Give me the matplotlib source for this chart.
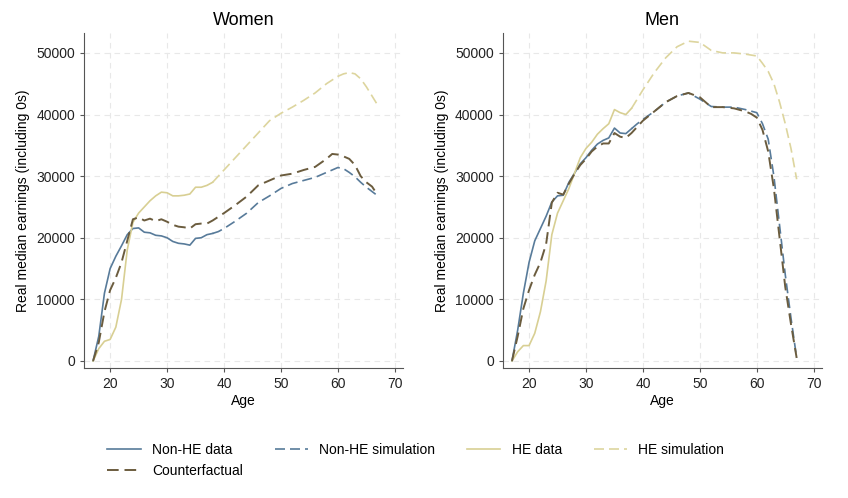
import numpy as np
import matplotlib.pyplot as plt

plt.rcParams['font.family'] = ['Liberation Sans', 'DejaVu Sans']

# --- Women
w_data_age = [17, 18, 19, 20, 21, 22, 23, 24, 25, 26, 27, 28, 29, 30, 31, 32, 33, 34, 35, 36, 37, 38]
w_sim_age = [38, 39, 40, 42, 44, 46, 48, 50, 52, 54, 56, 58, 60, 61, 62, 63, 64, 65, 66, 67]
w_cf_age = [17, 18, 19, 20, 21, 22, 23, 24, 25, 26, 27, 28, 29, 30, 31, 32, 33, 34, 35, 36, 37, 38,
            40, 42, 44, 46, 48, 50, 52, 54, 56, 58, 59, 60, 61, 62, 63, 64, 65, 66, 67]

w_nonhe_data = [0, 4000, 11000, 15000, 17000, 18700, 20500, 21500, 21600, 20900, 20800, 20400, 20300,
                20000, 19400, 19100, 19000, 18800, 19900, 20000, 20500, 20700]
w_nonhe_sim = [20700, 21000, 21500, 22700, 24000, 25700, 26800, 28000, 28800, 29300, 29800, 30600,
               31400, 31200, 30600, 29900, 29000, 28200, 27500, 26800]
w_he_data = [0, 2000, 3200, 3500, 5500, 10000, 18000, 22500, 24000, 25000, 26000, 26800, 27400,
             27300, 26800, 26800, 26900, 27100, 28200, 28200, 28500, 29000]
w_he_sim = [29000, 30000, 31000, 33000, 35000, 37000, 39000, 40200, 41200, 42300, 43500, 45000,
            46200, 46600, 46800, 46600, 45800, 44500, 43000, 41500]
w_cf = [0, 3000, 8000, 11500, 13500, 16000, 19500, 23000, 23300, 22800, 23100, 22700, 23000, 22600,
        22100, 21800, 21700, 21500, 22200, 22300, 22300, 22800,
        24000, 25300, 26700, 28500, 29300, 30100, 30400, 31000, 31500, 32800, 33600, 33500, 33200,
        32800, 31800, 30000, 29000, 28300, 26900]

# --- Men
m_nonhe_data = [0, 5000, 11000, 16000, 19500, 21500, 23500, 25800, 26800, 26900, 29000, 30500, 32000,
                33000, 34200, 35200, 35800, 36200, 37800, 37000, 36900, 37700]
m_nonhe_sim = [37700, 38500, 39200, 40500, 42000, 43000, 43500, 42500, 41300, 41200, 41200, 40800,
               40300, 38500, 36000, 30000, 22000, 14000, 7000, 500]
m_he_data = [0, 1500, 2500, 2500, 4500, 8000, 13000, 20500, 24000, 26000, 28000, 30500, 33000,
             34500, 35500, 36800, 37700, 38500, 40800, 40300, 40000, 41000]
m_he_sim = [41000, 42500, 44000, 46800, 49200, 51000, 51900, 51700, 50400, 50000, 50000, 49800,
            49500, 48300, 47000, 45000, 42000, 38500, 34500, 29500]
m_cf = [0, 4000, 8500, 11500, 14000, 16000, 19000, 25700, 27300, 27000, 28800, 30400, 31800, 32800,
        34000, 34800, 35300, 35300, 37000, 36400, 36200, 37000,
        39000, 40500, 42000, 43000, 43500, 42800, 41200, 41200, 41000, 40500, 40100, 39500, 37500,
        34000, 28000, 20000, 12000, 6000, 500]

c_nonhe = '#587b9a'
c_he = '#d8cf93'
c_he_sim = '#ddd59e'
c_cf = '#6b5c3e'

fig = plt.figure(figsize=(8.48, 4.98), dpi=100)
ax1 = fig.add_axes([0.099, 0.261, 0.376, 0.673])
ax2 = fig.add_axes([0.593, 0.261, 0.376, 0.673])

panels = [(ax1, 'Women', w_nonhe_data, w_nonhe_sim, w_he_data, w_he_sim, w_cf),
          (ax2, 'Men', m_nonhe_data, m_nonhe_sim, m_he_data, m_he_sim, m_cf)]

for ax, title, nd, ns, hd, hs, cf in panels:
    h1, = ax.plot(w_data_age, nd, color=c_nonhe, lw=1.2, label='Non-HE data')
    h2, = ax.plot(w_sim_age, ns, color=c_nonhe, lw=1.2, dashes=(6, 3), label='Non-HE simulation')
    h3, = ax.plot(w_data_age, hd, color=c_he, lw=1.2, label='HE data')
    h4, = ax.plot(w_sim_age, hs, color=c_he_sim, lw=1.2, dashes=(6, 3), label='HE simulation')
    h5, = ax.plot(w_cf_age, cf, color=c_cf, lw=1.4, dashes=(6, 3), label='Counterfactual')
    ax.set_xlim(15.4, 71.4)
    ax.set_ylim(-1140, 53250)
    ax.set_xticks([20, 30, 40, 50, 60, 70])
    ax.set_yticks([0, 10000, 20000, 30000, 40000, 50000])
    ax.grid(True, color='#e8e8e8', ls=(0, (5, 4)), lw=0.8)
    ax.set_axisbelow(True)
    for s in ['top', 'right']:
        ax.spines[s].set_visible(False)
    for s in ['left', 'bottom']:
        ax.spines[s].set_color('#555555')
    ax.tick_params(labelsize=10, length=3, color='#555555', labelcolor='#222222')
    ax.set_title(title, fontsize=13, pad=6)
    ax.set_xlabel('Age', fontsize=10, labelpad=2)
    ax.set_ylabel('Real median earnings (including 0s)', fontsize=10)

fig.legend([h1, h5, h2, h3, h4],
           ['Non-HE data', 'Counterfactual', 'Non-HE simulation', 'HE data', 'HE simulation'],
           ncol=4, loc='upper left', bbox_to_anchor=(0.112, 0.135), frameon=False,
           fontsize=10, handlelength=2.4, handletextpad=0.8, columnspacing=2.3,
           labelspacing=0.5)

fig.savefig('out.png', dpi=100)
